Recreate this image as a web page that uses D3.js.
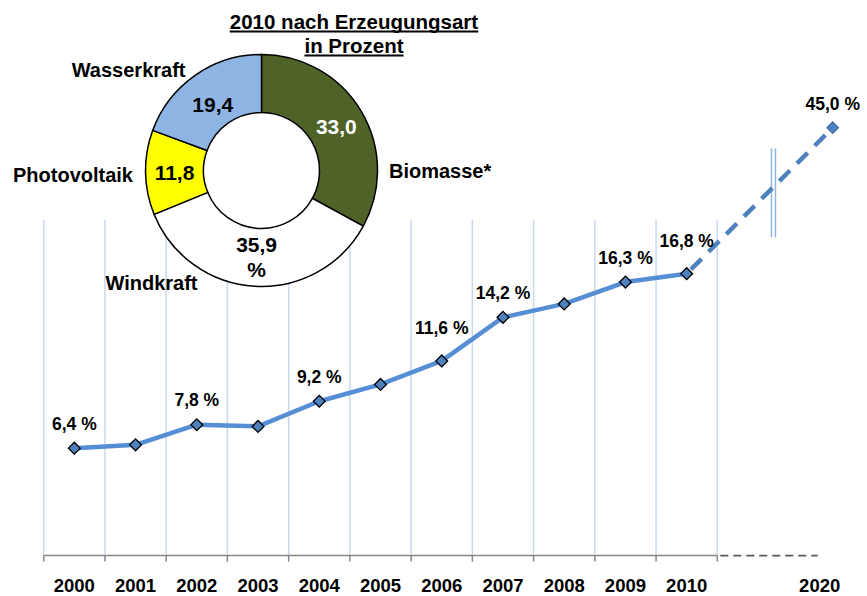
<!DOCTYPE html>
<html><head><meta charset="utf-8">
<script src="https://cdn.jsdelivr.net/npm/d3@7"></script>
<style>
html,body{margin:0;padding:0;background:#fff;}
svg{display:block;font-family:"Liberation Sans",Arial,sans-serif;font-weight:bold;}
</style></head>
<body><svg id="c" width="867" height="596"></svg>
<script>
// ---- data ----
const years = [2000, 2001, 2002, 2003, 2004, 2005, 2006, 2007, 2008, 2009, 2010];
const shares = [6.4, 6.6, 7.8, 7.7, 9.2, 10.2, 11.6, 14.2, 15.0, 16.3, 16.8];
const labeledYears = [2000, 2002, 2004, 2006, 2007, 2009, 2010];
const targetYear = 2020;
const targetShare = 45.0;
const tickLabels = ["2000","2001","2002","2003","2004","2005","2006","2007","2008","2009","2010","2020"];
const mixCategories = ["Biomasse*", "Windkraft", "Photovoltaik", "Wasserkraft"];
const mixValues = [33.0, 35.9, 11.8, 19.4];
const mixColors = ["#4F6228", "#FFFFFF", "#FFFF00", "#8DB4E2"];
const titleLines = ["2010 nach Erzeugungsart", "in Prozent"];

const svg = d3.select("#c");
const fmt = v => d3.format(".1f")(v).replace(".", ",");

// broken scales (axis break between 2010 and 2020)
const x = d3.scaleLinear().domain([1999.5, 2010.5, 2020]).range([43.7, 717.3, 832.7]);
const y = d3.scaleLinear().domain([0, 20, 45]).range([555.6, 220, 127.7]);

// gridlines
const bounds = d3.range(1999.5, 2011, 1);
svg.append("g").selectAll("line").data(bounds).join("line")
  .attr("x1", d => x(d)).attr("x2", d => x(d))
  .attr("y1", y(20)).attr("y2", y(0))
  .attr("stroke", "#C6D9F1").attr("stroke-width", 1.5);

// axis
const axisG = svg.append("g").attr("transform", `translate(0,${y(0)})`);
axisG.append("line").attr("x1", x(1999.5)).attr("x2", x(2010.5))
  .attr("stroke", "#868686").attr("stroke-width", 1.5);
axisG.selectAll("line.tick").data(bounds).join("line").attr("class", "tick")
  .attr("x1", d => x(d)).attr("x2", d => x(d)).attr("y1", 0).attr("y2", 6)
  .attr("stroke", "#868686").attr("stroke-width", 1.5);
axisG.append("line").attr("x1", x(2010.5) + 3).attr("x2", x(2020) - 15)
  .attr("stroke", "#595959").attr("stroke-width", 1.6).attr("stroke-dasharray", "8,5");
const allYears = years.concat([targetYear]);
axisG.selectAll("text").data(allYears).join("text")
  .attr("x", d => d === targetYear ? x(d) - 13 : x(d))
  .attr("y", d => d === targetYear ? 36.5 : 36)
  .attr("text-anchor", "middle").attr("font-size", "18.5px").attr("fill", "#000")
  .text((d, i) => tickLabels[i]);

// axis break marker
const bx = x(2015);
const by = y(16.8) + (y(targetShare) - y(16.8)) * ((bx - x(2010)) / (x(2020) - x(2010)));
[-2, 2].forEach(o => {
  svg.append("line").attr("x1", bx + o + 1.5).attr("x2", bx + o + 1.5)
    .attr("y1", by - 40).attr("y2", by + 49)
    .attr("stroke", "#8EB4E3").attr("stroke-width", 1.5);
});

// series line
const pts = years.map((yr, i) => ({yr, v: shares[i]}));
const line = d3.line().x(d => x(d.yr)).y(d => y(d.v));
svg.append("path").datum(pts).attr("d", line)
  .attr("fill", "none").attr("stroke", "#558ED5").attr("stroke-width", 4.5)
  .attr("stroke-linejoin", "round");
const proj = [pts[pts.length - 1], {yr: targetYear, v: targetShare}];
svg.append("path").datum(proj).attr("d", line)
  .attr("fill", "none").attr("stroke", "#4F81BD").attr("stroke-width", 4.5)
  .attr("stroke-dasharray", "15,10").attr("stroke-dashoffset", -6);

// markers
const diamond = d3.symbol().type(d3.symbolSquare).size(70);
svg.append("g").selectAll("path").data(pts).join("path")
  .attr("d", diamond)
  .attr("transform", d => `translate(${x(d.yr)},${y(d.v)}) rotate(45)`)
  .attr("fill", "#4F81BD").attr("stroke", "#000").attr("stroke-width", 1.3);
svg.append("path").attr("d", diamond)
  .attr("transform", `translate(${x(targetYear)},${y(targetShare)}) rotate(45)`)
  .attr("fill", "#4F81BD").attr("stroke", "#3A6BA5").attr("stroke-width", 1);

// value labels
const highLabels = [2006, 2010];
svg.append("g").selectAll("text").data(pts.filter(d => labeledYears.includes(d.yr))).join("text")
  .attr("x", d => x(d.yr)).attr("y", d => y(d.v) - (highLabels.includes(d.yr) ? 26.5 : 18.5))
  .attr("text-anchor", "middle").attr("font-size", "17.5px").attr("fill", "#000")
  .text(d => fmt(d.v) + " %");
svg.append("text").attr("x", x(targetYear)).attr("y", y(targetShare) - 17.5)
  .attr("text-anchor", "middle").attr("font-size", "17.5px").attr("fill", "#000")
  .text(fmt(targetShare) + " %");

// donut
const cx = 261.5, cy = 170.5, rIn = 58, rOut = 116;
const pie = d3.pie().sort(null).value(d => d)(mixValues);
const arc = d3.arc().innerRadius(rIn).outerRadius(rOut);
const dg = svg.append("g").attr("transform", `translate(${cx},${cy})`);
dg.append("circle").attr("r", rIn).attr("fill", "#fff");
dg.selectAll("path").data(pie).join("path").attr("d", arc)
  .attr("fill", (d, i) => mixColors[i]).attr("stroke", "#000").attr("stroke-width", 1.5);
pie.forEach((d, i) => {
  const [px, py] = arc.centroid(d);
  const lines = i === 1 ? [fmt(mixValues[i]), "%"] : [fmt(mixValues[i])];
  const t = dg.append("text").attr("text-anchor", "middle").attr("font-size", "21px")
    .attr("fill", i === 0 ? "#fff" : "#000");
  lines.forEach((s, k) => {
    t.append("tspan").attr("x", px + (i === 3 ? 1 : 0))
      .attr("y", py + (i === 3 ? 5 : 0) + 7.5 + (k - (lines.length - 1) / 2) * 25)
      .text(s);
  });
});
// outer category labels (layout relative to donut centre)
const outerLayout = [
  {dx: 127.5, dy: 7.8, anchor: "start"},
  {dx: -110, dy: 119.5, anchor: "middle"},
  {dx: -128.5, dy: 11.2, anchor: "end"},
  {dx: -76, dy: -93.5, anchor: "end"}
];
mixCategories.forEach((c, i) => {
  dg.append("text").attr("x", outerLayout[i].dx).attr("y", outerLayout[i].dy)
    .attr("text-anchor", outerLayout[i].anchor).attr("font-size", "20px").attr("fill", "#000")
    .text(c);
});

// title (underlined)
const tg = svg.append("g");
titleLines.forEach((s, k) => {
  const t = tg.append("text").attr("x", 354).attr("y", 29 + k * 24)
    .attr("text-anchor", "middle").attr("font-size", "20.5px").attr("fill", "#000").text(s);
  const w = t.node().getComputedTextLength();
  tg.append("line").attr("x1", 354 - w / 2).attr("x2", 354 + w / 2)
    .attr("y1", 31.5 + k * 24).attr("y2", 31.5 + k * 24)
    .attr("stroke", "#000").attr("stroke-width", 1.8);
});
</script></body></html>
